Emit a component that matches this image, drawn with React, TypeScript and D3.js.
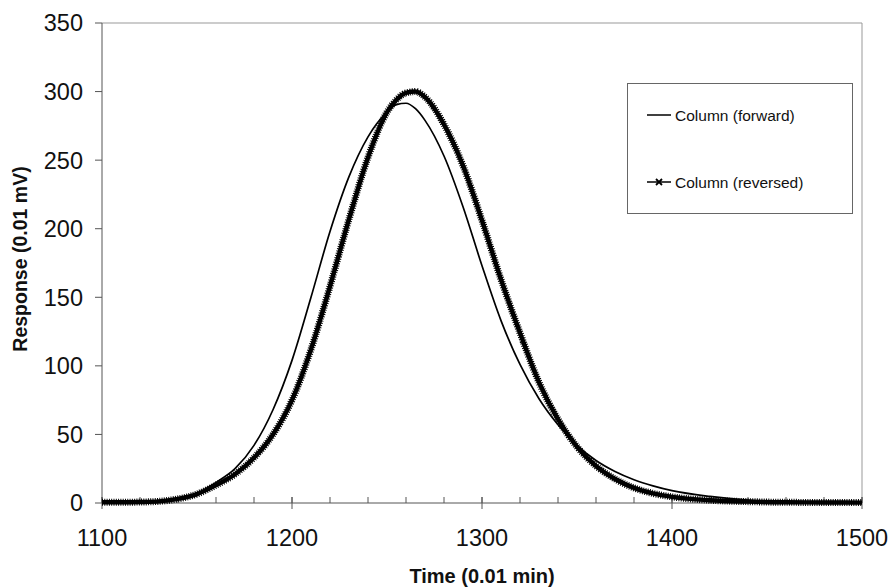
import React from 'react';
import * as d3 from 'd3';

const times = [1100, 1110, 1120, 1130, 1140, 1150, 1160, 1170, 1180, 1190, 1200, 1210, 1220, 1230, 1240, 1250, 1255, 1260, 1265, 1270, 1280, 1290, 1300, 1310, 1320, 1330, 1340, 1350, 1360, 1370, 1380, 1390, 1400, 1420, 1440, 1460, 1480, 1500];
const forward = [0.3, 0.5, 1, 1.8, 3.5, 7, 15, 25, 42, 68, 104, 150, 198, 238, 267, 285, 290.5, 291.5, 287.5, 279, 253, 216, 173, 133, 101, 76, 57, 42, 31, 23, 17, 12.5, 9, 4.8, 2.2, 1, 0.5, 0.3];
const reversed = [0.5, 0.5, 0.7, 1.2, 3, 6.5, 13, 21, 33, 50, 75, 112, 158, 207, 252, 285, 294, 299, 300, 296, 276, 246, 206, 163, 124, 88, 61, 41, 27, 17.5, 11, 7, 4.5, 2, 1, 0.5, 0.4, 0.3];
const seriesNames = ['Column (forward)', 'Column (reversed)'];
const xTicks = [1100, 1200, 1300, 1400, 1500];
const yTicks = [0, 50, 100, 150, 200, 250, 300, 350];
const xTitle = 'Time (0.01 min)';
const yTitle = 'Response (0.01 mV)';

export default function App() {
  const W = 889, H = 587;
  const left = 102, right = 862, top = 23, bottom = 503;
  const x = d3.scaleLinear().domain([1100, 1500]).range([left, right]);
  const y = d3.scaleLinear().domain([0, 350]).range([bottom, top]);
  const line = d3.line<number>()
    .x((_, i) => x(times[i]))
    .y((d) => y(d))
    .curve(d3.curveMonotoneX);
  const minor = d3.range(1100, 1501, 20);
  const font = 'Liberation Sans, Arial, sans-serif';
  const axisColor = '#555';

  return (
    <div style={{ position: 'fixed', left: 0, top: 0 }}>
      <svg width={W} height={H} style={{ display: 'block', background: '#fff' }} fontFamily={font}>
        {/* plot border */}
        <line x1={left} x2={right} y1={top} y2={top} stroke="#999" strokeWidth={1} />
        <line x1={right} x2={right} y1={top} y2={bottom} stroke="#999" strokeWidth={1} />
        {/* axes */}
        <line x1={left} x2={left} y1={top} y2={bottom} stroke={axisColor} strokeWidth={1} />
        <line x1={left} x2={right} y1={bottom} y2={bottom} stroke={axisColor} strokeWidth={1} />
        {minor.map((t) => (
          <line key={'m' + t} x1={x(t)} x2={x(t)} y1={bottom - 6} y2={bottom} stroke={axisColor} strokeWidth={1} />
        ))}
        {xTicks.map((t) => (
          <g key={'x' + t}>
            <line x1={x(t)} x2={x(t)} y1={bottom - 6} y2={bottom + 6} stroke={axisColor} strokeWidth={1} />
            <text x={x(t)} y={546} textAnchor="middle" fontSize={23.5} fill="#111">{t}</text>
          </g>
        ))}
        {yTicks.map((v) => (
          <g key={'y' + v}>
            <line x1={left - 7} x2={left} y1={y(v)} y2={y(v)} stroke={axisColor} strokeWidth={1} />
            <text x={83} y={y(v)} dy="0.36em" textAnchor="end" fontSize={23.5} fill="#111">{v}</text>
          </g>
        ))}
        <text x={(left + right) / 2} y={583} textAnchor="middle" fontSize={20} fontWeight="bold" fill="#111">{xTitle}</text>
        <text transform={`translate(27,${(top + bottom) / 2 - 4}) rotate(-90)`} textAnchor="middle" fontSize={19.5} fontWeight="bold" fill="#111">{yTitle}</text>

        {/* series */}
        <path d={line(reversed) || ''} fill="none" stroke="#000" strokeWidth={4.4} strokeLinejoin="round" />
        <path d={line(reversed) || ''} fill="none" stroke="#000" strokeWidth={7} strokeDasharray="1 1.3" />
        <path d={line(forward) || ''} fill="none" stroke="#000" strokeWidth={1.7} strokeLinejoin="round" />

        {/* legend */}
        <rect x={627.5} y={83.5} width={225} height={130} fill="#fff" stroke="#666" strokeWidth={1} />
        <line x1={647} x2={671} y1={115} y2={115} stroke="#000" strokeWidth={1.5} />
        <text x={675} y={115} dy="0.36em" fontSize={15.5} fill="#111">{seriesNames[0]}</text>
        <line x1={647} x2={671} y1={182} y2={182} stroke="#000" strokeWidth={1.5} />
        <path d="M656,179 L662,185 M656,185 L662,179" stroke="#000" strokeWidth={1.8} />
        <text x={675} y={182} dy="0.36em" fontSize={15.5} fill="#111">{seriesNames[1]}</text>
      </svg>
    </div>
  );
}
